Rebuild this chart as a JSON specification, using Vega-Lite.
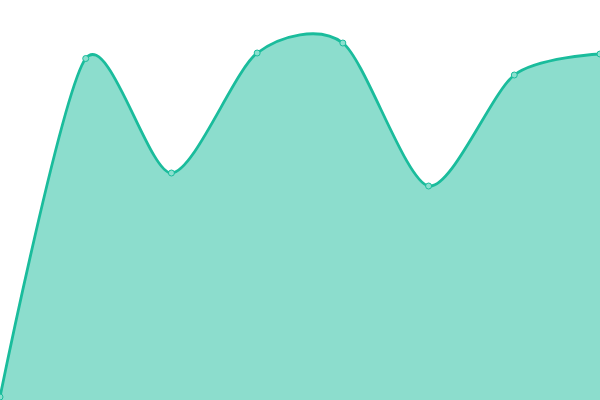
{
  "$schema": "https://vega.github.io/schema/vega-lite/v6.json",
  "width": 600, "height": 400,
  "autosize": {"type": "none"},
  "padding": 0,
  "background": "white",
  "config": {"view": {"stroke": null}},
  "data": {
    "values": [
      {"i": 0, "v": 3},
      {"i": 1, "v": 341.5},
      {"i": 2, "v": 227},
      {"i": 3, "v": 347},
      {"i": 4, "v": 357},
      {"i": 5, "v": 214},
      {"i": 6, "v": 325},
      {"i": 7, "v": 346}
    ]
  },
  "encoding": {
    "x": {"field": "i", "type": "quantitative", "axis": null, "scale": {"domain": [0, 7], "nice": false, "zero": false}},
    "y": {"field": "v", "type": "quantitative", "axis": null, "scale": {"domain": [0, 400], "nice": false}}
  },
  "layer": [
    {"mark": {"type": "area", "interpolate": "cardinal", "tension": 0.2, "color": "#1abc9c", "fillOpacity": 0.5, "clip": true}},
    {"mark": {"type": "line", "interpolate": "cardinal", "tension": 0.2, "color": "#1abc9c", "strokeWidth": 2.8, "clip": true}},
    {"mark": {"type": "point", "filled": false, "size": 36, "fill": "#8be0cf", "fillOpacity": 1, "stroke": "#1abc9c", "strokeWidth": 1, "opacity": 1}}
  ]
}
